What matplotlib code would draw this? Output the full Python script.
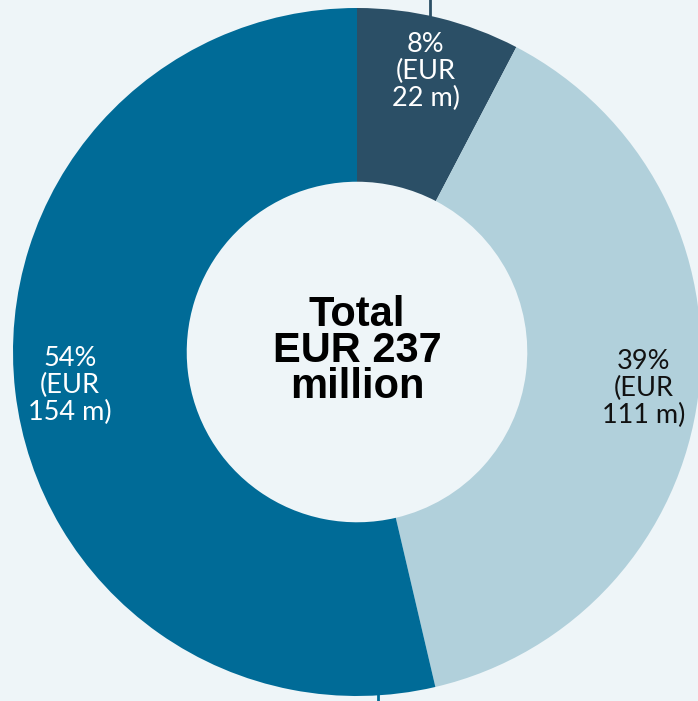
import numpy as np
import matplotlib.pyplot as plt

# data
labels = ["8%\n(EUR\n22 m)", "39%\n(EUR\n111 m)", "54%\n(EUR\n154 m)"]
values = [22, 111, 154]  # EUR million
colors = ["#2b4f66", "#b1d0db", "#006b97"]
text_colors = ["white", "#111111", "white"]
center_text = "Total\nEUR 237\nmillion"

bg = "#eef5f8"

fig = plt.figure(figsize=(6.98, 7.01), dpi=100, facecolor=bg)
ax = fig.add_axes([0, 0, 1, 1])
ax.set_facecolor(bg)

wedges, _ = ax.pie(values, colors=colors, startangle=90, counterclock=False,
                   radius=1.0, wedgeprops=dict(width=0.505, linewidth=0))

# labels at middle of each wedge
for w, lab, tc in zip(wedges, labels, text_colors):
    ang = np.deg2rad((w.theta1 + w.theta2) / 2)
    r = 0.84
    ax.text(r * np.cos(ang), r * np.sin(ang), lab, ha="center", va="center",
            multialignment="center", fontsize=19.5, color=tc,
            family="Lato", linespacing=1.1)

ax.text(0, 0.003, center_text, ha="center", va="center", fontsize=30,
        fontweight="bold", family="Liberation Sans", color="black", linespacing=0.88)

# small leader ticks at edges
ax.plot([0.213, 0.213], [0.98, 1.05], color=colors[0], lw=2)
ax.plot([0.061, 0.061], [-0.995, -1.05], color=colors[2], lw=2)

ax.set_aspect("auto")
ax.set_xlim(-357 / 344, (698 - 357) / 344)
ax.set_ylim(-(701 - 352) / 344, 352 / 344)
ax.axis("off")

fig.savefig("out.png", dpi=100, facecolor=bg)
